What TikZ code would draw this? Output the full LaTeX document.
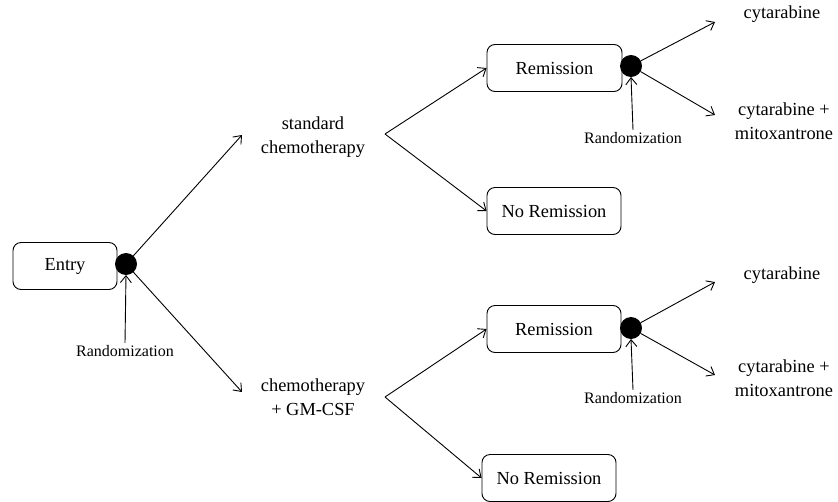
\documentclass[tikz,border=0pt]{standalone}
\usepackage{fontspec}
\setmainfont{Liberation Serif}
\usetikzlibrary{arrows.meta}
\begin{document}
\begin{tikzpicture}[x=1pt,y=-1pt,
  line width=0.9pt,
  >={Straight Barb[length=7pt,width=11pt,line width=0.9pt]},
  boxnode/.style={draw,rounded corners=8pt,minimum height=47pt,font=\fontsize{18.4}{21}\selectfont,inner sep=0pt},
  lbl/.style={font=\fontsize{18.4}{23.5}\selectfont,align=center,inner sep=1pt},
  rnd/.style={font=\fontsize{16}{19}\selectfont,inner sep=2pt},
  dotnode/.style={circle,fill=black,draw=black,minimum size=21pt,inner sep=0pt}]
\useasboundingbox (0,0) rectangle (838,501);
% Entry
\node[boxnode,minimum width=104pt] (entry) at (65,266) {Entry};
\node[dotnode] (edot) at (126,264) {};
\node[rnd] (erand) at (125,351) {Randomization};
\draw[->] (erand.north) -- (edot.south);
% arms
\coordinate (a1) at (242,135);
\coordinate (a2) at (242,392);
\draw[->] (edot) -- (a1);
\draw[->] (edot) -- (a2);
\node[lbl] (std) at (313,137) {standard\\chemotherapy};
\node[lbl] (gm) at (313,397) {chemotherapy\\+ GM-CSF};
% upper fork
\coordinate (f1) at (385,134);
\node[boxnode,minimum width=135pt] (rem1) at (554.5,68) {Remission};
\node[boxnode,minimum width=134pt] (nor1) at (554,211) {No Remission};
\draw[->] (f1) -- (rem1.west);
\draw[->] (f1) -- (nor1.west);
\node[dotnode] (d1) at (631,66) {};
\node[rnd] (r1) at (633,138) {Randomization};
\draw[->] (r1.north) -- (d1.south);
\coordinate (e1a) at (715,22);
\coordinate (e1b) at (715,115);
\draw[->] (d1) -- (e1a);
\draw[->] (d1) -- (e1b);
\node[lbl] (c1a) at (782,14) {cytarabine};
\node[lbl] (c1b) at (784,121) {cytarabine +\\mitoxantrone};
% lower fork
\coordinate (f2) at (385,397);
\node[boxnode,minimum width=134pt] (rem2) at (554,329) {Remission};
\node[boxnode,minimum width=134pt] (nor2) at (549,478) {No Remission};
\draw[->] (f2) -- (rem2.west);
\draw[->] (f2) -- (nor2.west);
\node[dotnode] (d2) at (631,328) {};
\node[rnd] (r2) at (633,398) {Randomization};
\draw[->] (r2.north) -- (d2.south);
\coordinate (e2a) at (715,282);
\coordinate (e2b) at (715,375);
\draw[->] (d2) -- (e2a);
\draw[->] (d2) -- (e2b);
\node[lbl] (c2a) at (782,275) {cytarabine};
\node[lbl] (c2b) at (784,378) {cytarabine +\\mitoxantrone};
\end{tikzpicture}
\end{document}
